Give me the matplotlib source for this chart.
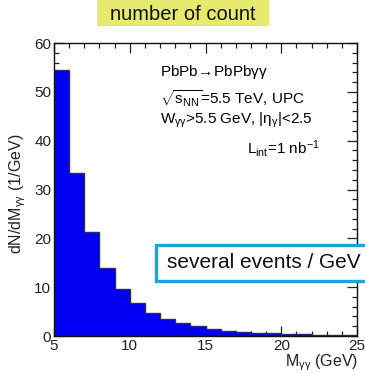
import matplotlib
matplotlib.use("Agg")
import matplotlib.pyplot as plt
from matplotlib.patches import Rectangle
from matplotlib.ticker import MultipleLocator

plt.rcParams['font.family'] = ['Liberation Sans', 'DejaVu Sans']
plt.rcParams['mathtext.fontset'] = 'custom'
plt.rcParams['mathtext.rm'] = 'Liberation Sans'
plt.rcParams['mathtext.it'] = 'Liberation Sans'

# Diphoton invariant-mass spectrum, 1 GeV bins from 5 to 25 GeV
bin_edges = list(range(5, 26))
dn_dm = [54.5, 33.3, 21.3, 14.0, 9.7, 6.8, 4.8, 3.5, 2.6, 2.0,
         1.45, 1.1, 0.85, 0.65, 0.55, 0.42, 0.35, 0.28, 0.22, 0.16]

W, H = 365, 373
fig = plt.figure(figsize=(W / 100, H / 100), dpi=100)
ax = fig.add_axes([54 / W, 1 - 336 / H, (357 - 54) / W, (336 - 43) / H])

ax.stairs(dn_dm, bin_edges, fill=True, color='#0000f5', zorder=2)
ax.stairs(dn_dm, bin_edges, color='#333333', linewidth=1.0, zorder=3)

ax.set_xlim(5, 25)
ax.set_ylim(0, 60)
ax.xaxis.set_major_locator(MultipleLocator(5))
ax.xaxis.set_minor_locator(MultipleLocator(1))
ax.yaxis.set_major_locator(MultipleLocator(10))
ax.yaxis.set_minor_locator(MultipleLocator(2))
ax.tick_params(which='both', direction='in', top=True, right=True,
               labelsize=11, colors='#222222', pad=2)
ax.tick_params(which='major', length=7, width=0.9)
ax.tick_params(which='minor', length=3.5, width=0.9)
for s in ax.spines.values():
    s.set_linewidth(1.0)
    s.set_color('#111111')
    s.set_zorder(4)

# Axis titles
fig.text(18 / W, 1 - 194 / H, r'dN/dM$_{\mathrm{γγ}}$ (1/GeV)', rotation=90,
         ha='center', va='center', fontsize=11.5, color='#222222')
fig.text(358 / W, 1 - 363 / H, r'M$_{\mathrm{γγ}}$ (GeV)', ha='right', va='center',
         fontsize=11.5, color='#222222')

# Process / conditions annotation
tx = 160 / W
fig.text(tx, 1 - 72 / H, r'PbPb$\!\rightarrow\!$PbPbγγ', fontsize=11, va='center')
fig.text(tx, 1 - 99 / H, r'$\sqrt{\mathrm{s}_{\mathrm{NN}}}$=5.5 TeV, UPC',
         fontsize=11, va='center')
fig.text(tx, 1 - 120 / H, r'W$_{\mathrm{γγ}}$>5.5 GeV, |η$_{\mathrm{γ}}$|<2.5',
         fontsize=11, va='center')
fig.text(247 / W, 1 - 148 / H, r'L$_{\mathrm{int}}$=1 nb$^{-1}$',
         fontsize=11, va='center')

# Yellow title banner
fig.add_artist(Rectangle((97 / W, 1 - 26 / H), (269 - 97) / W, 26 / H,
                         transform=fig.transFigure, facecolor='#e6eb6e',
                         edgecolor='none', zorder=5))
fig.text(183 / W, 1 - 14 / H, 'number of count', ha='center', va='center',
         fontsize=14.5, color='#111111', zorder=6)

# Cyan callout box
fig.add_artist(Rectangle((156 / W, 1 - 281 / H), (380 - 156) / W, (281 - 245) / H,
                         transform=fig.transFigure, facecolor='white',
                         edgecolor='#00aeef', linewidth=2.4, zorder=5,
                         clip_on=False))
fig.text(167 / W, 1 - 263 / H, 'several events / GeV', ha='left', va='center',
         fontsize=15, color='#111111', zorder=6)

fig.savefig('out.png', dpi=100)
